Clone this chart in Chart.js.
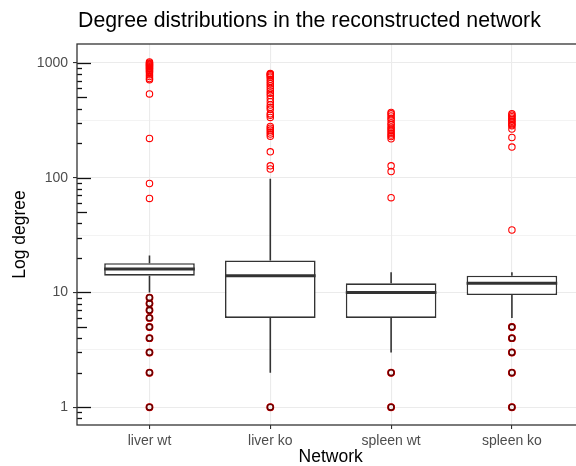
<!DOCTYPE html>
<html>
<head>
<meta charset="utf-8">
<script src="https://cdn.jsdelivr.net/npm/chart.js@4.4.1/dist/chart.umd.min.js"></script>
<style>
  html, body { margin: 0; padding: 0; background: #fff; overflow: hidden; }
  #wrap { width: 590px; height: 466px; position: relative; }
</style>
</head>
<body>
<div id="wrap"><canvas id="chart"></canvas></div>
<script>
// box statistics per network
const networks = ["liver wt", "liver ko", "spleen wt", "spleen ko"];
const q1 = [14, 6, 6, 9.5];
const median = [16, 14, 10, 12];
const q3 = [18, 19, 12, 14];
const whiskerLow = [10, 2, 3, 6];
const whiskerHigh = [21, 98, 15, 15];

// outliers above the upper whisker
const upperOutliers = [
    [1020, 1000, 985, 970, 955, 940, 925, 910, 895, 880, 860, 840, 820, 790, 760, 730, 715, 537, 220, 89, 66],
    [810, 800, 790, 770, 750, 720, 690, 660, 630, 600, 570, 545, 520, 490, 460, 430, 410, 395, 360, 350, 335, 280, 270, 260, 250, 240, 230, 168, 127, 119],
    [370, 360, 345, 330, 318, 300, 290, 275, 265, 255, 245, 235, 228, 218, 127, 113, 67],
    [360, 350, 340, 330, 320, 310, 300, 290, 283, 265, 224, 185, 35]
];
// outliers below the lower whisker
const lowerOutliers = [
    [9, 8, 7, 6, 5, 4, 3, 2, 1],
    [1],
    [2, 1],
    [5, 4, 3, 2, 1]
];

const yTicks = [1, 3.1623, 10, 31.623, 100, 316.23, 1000];
const yMin = 0.711, yMax = 1462;
const chartTitle = "Degree distributions in the reconstructed network";
const FONT = "'Liberation Sans', Arial, Helvetica, sans-serif";

const isMajor = v => Math.abs(Math.log10(v) - Math.round(Math.log10(v))) < 1e-6;

// build datasets
const boxData = networks.map((n, i) => ({ x: i + 1, y: [q1[i], q3[i]] }));
const medianData = networks.map((n, i) => ({ x: i + 1, y: median[i] }));
const whiskerData = [];
networks.forEach((n, i) => {
    whiskerData.push({ x: i + 1, y: q3[i] }, { x: i + 1, y: whiskerHigh[i] }, { x: i + 1, y: null });
    whiskerData.push({ x: i + 1, y: whiskerLow[i] }, { x: i + 1, y: q1[i] }, { x: i + 1, y: null });
});
const upperPts = [];
upperOutliers.forEach((arr, i) => arr.forEach(v => upperPts.push({ x: i + 1, y: v })));
const lowerPts = [];
lowerOutliers.forEach((arr, i) => arr.forEach(v => lowerPts.push({ x: i + 1, y: v })));

// panel border, log ticks and title
const panelPlugin = {
    id: 'panel',
    afterDraw(chart) {
        const { ctx, chartArea: a } = chart;
        const y = chart.scales.y;
        ctx.save();
        // annotation_logticks on the left side
        ctx.strokeStyle = '#111';
        ctx.lineWidth = 1.3;
        for (let k = -1; k <= 3; k++) {
            for (let m = 1; m <= 9; m++) {
                const v = m * Math.pow(10, k);
                if (v < yMin || v > yMax) continue;
                const len = m === 1 ? 14 : (m === 5 ? 10 : 5);
                const py = Math.round(y.getPixelForValue(v)) + 0.5;
                ctx.beginPath();
                ctx.moveTo(a.left, py);
                ctx.lineTo(a.left + len, py);
                ctx.stroke();
            }
        }
        // border
        ctx.strokeStyle = '#333';
        ctx.lineWidth = 1.3;
        ctx.strokeRect(a.left, a.top, a.right - a.left, a.bottom - a.top);
        // title
        ctx.fillStyle = '#000';
        ctx.font = "21.3px " + FONT;
        ctx.textBaseline = 'alphabetic';
        ctx.textAlign = 'left';
        ctx.fillText(chartTitle, a.left + 1, 27);
        ctx.restore();
    }
};

const boxHalf = ctx => {
    const x = ctx.chart.scales.x;
    return x.getPixelForValue(1.375) - x.getPixelForValue(1);
};

new Chart(document.getElementById('chart'), {
    type: 'bar',
    data: {
        datasets: [
            {
                type: 'line', data: lowerPts, showLine: false, order: 1,
                pointStyle: 'circle', pointRadius: 2.9, pointBorderWidth: 1.6,
                pointBorderColor: '#6b0000', pointBackgroundColor: 'rgba(0,0,0,0)'
            },
            {
                type: 'line', data: lowerPts, showLine: false, order: 2,
                pointStyle: 'circle', pointRadius: 3.4, pointBorderWidth: 1.1,
                pointBorderColor: '#ff0000', pointBackgroundColor: 'rgba(0,0,0,0)'
            },
            {
                type: 'line', data: upperPts, showLine: false, order: 3,
                pointStyle: 'circle', pointRadius: 3.2, pointBorderWidth: 1.1,
                pointBorderColor: '#ff0000', pointBackgroundColor: 'rgba(0,0,0,0)'
            },
            {
                type: 'line', data: medianData, showLine: false, order: 4,
                pointStyle: 'line', pointRadius: boxHalf, pointBorderWidth: 3,
                pointBorderColor: '#333333'
            },
            {
                type: 'bar', data: boxData, order: 5,
                backgroundColor: '#ffffff', borderColor: '#333333', borderWidth: 1.6,
                borderSkipped: false, barPercentage: 0.75, categoryPercentage: 1
            },
            {
                type: 'line', data: whiskerData, order: 6,
                borderColor: '#333333', borderWidth: 1.6, pointRadius: 0, spanGaps: false
            }
        ]
    },
    options: {
        responsive: true,
        maintainAspectRatio: false,
        animation: false,
        events: [],
        layout: { padding: { top: 44, right: 3, left: 0, bottom: 0 } },
        plugins: { legend: { display: false }, tooltip: { enabled: false }, title: { display: false } },
        scales: {
            x: {
                type: 'linear', min: 0.4, max: 4.6, offset: false,
                afterBuildTicks: s => { s.ticks = networks.map((n, i) => ({ value: i + 1 })); },
                afterFit: s => { s.height = 41; },
                grid: { offset: false, color: '#ebebeb', lineWidth: 1.1, tickLength: 4, tickColor: '#333', tickWidth: 1.1 },
                border: { display: false },
                ticks: {
                    autoSkip: false, maxRotation: 0, padding: 5, color: '#4d4d4d',
                    font: { family: FONT, size: 14, lineHeight: 1 },
                    callback: v => networks[Math.round(v) - 1]
                },
                title: {
                    display: true, text: 'Network', color: '#000',
                    font: { family: FONT, size: 17.5, lineHeight: 1 },
                    padding: { top: 0, bottom: 0 }
                }
            },
            y: {
                type: 'logarithmic', min: yMin, max: yMax,
                afterBuildTicks: s => { s.ticks = yTicks.map(v => ({ value: v, major: isMajor(v) })); },
                afterFit: s => { s.width = 77; },
                grid: {
                    color: '#ebebeb',
                    lineWidth: c => (c.tick && isMajor(c.tick.value)) ? 1.1 : 0.6,
                    tickLength: 4, tickWidth: 1.1,
                    tickColor: c => (c.tick && isMajor(c.tick.value)) ? '#333' : 'rgba(0,0,0,0)'
                },
                border: { display: false },
                ticks: {
                    padding: 5, color: '#4d4d4d',
                    font: { family: FONT, size: 14, lineHeight: 1 },
                    callback: v => isMajor(v) ? String(Math.round(v)) : ''
                },
                title: {
                    display: true, text: 'Log degree', color: '#000',
                    font: { family: FONT, size: 17.5, lineHeight: 1 },
                    padding: { top: 11, bottom: 8 }
                }
            }
        }
    },
    plugins: [panelPlugin]
});
</script>
</body>
</html>
